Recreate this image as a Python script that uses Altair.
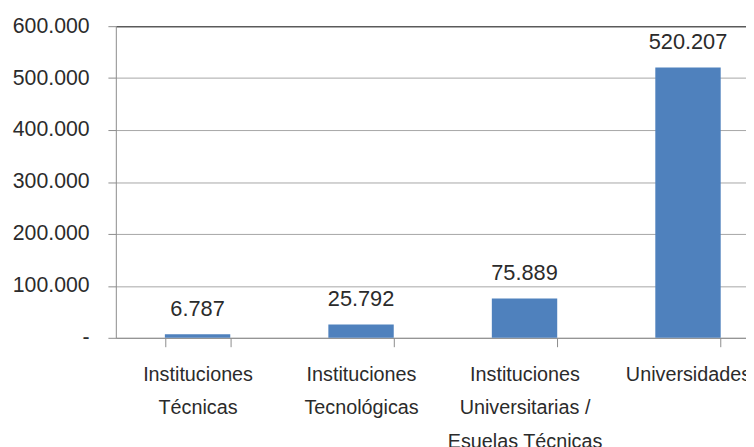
import altair as alt
import pandas as pd

# Data
categories = [
    "Instituciones|Técnicas",
    "Instituciones|Tecnológicas",
    "Instituciones|Universitarias /|Esuelas Técnicas",
    "Universidades",
]
values = [6787, 25792, 75889, 520207]
value_labels = ["6.787", "25.792", "75.889", "520.207"]
y_ticks = [0, 100000, 200000, 300000, 400000, 500000, 600000]

df = pd.DataFrame({"categoria": categories, "valor": values, "etiqueta": value_labels})

FONT = "Liberation Sans"
TXT = "#2b2b2b"
AXIS_GRAY = "#8C8C8C"

x_enc = alt.X(
    "categoria:N",
    sort=categories,
    title=None,
    scale=alt.Scale(range=[0, 661], paddingInner=0.6, paddingOuter=0.3),
    axis=alt.Axis(
        labelExpr="split(datum.label, '|')",
        labelAngle=0,
        tickBand="extent",
        tickSize=9,
        labelPadding=18,
        labelFontSize=20,
        labelLineHeight=34,
        labelOverlap=False,
        labelBaseline="top",
    ),
)

y_enc = alt.Y(
    "valor:Q",
    title=None,
    scale=alt.Scale(domain=[0, 600000]),
    axis=alt.Axis(
        values=y_ticks,
        labelExpr="datum.value == 0 ? '-\u00a0\u00a0' : format(datum.value / 1000, 'd') + '.000'",
        tickSize=8,
        labelPadding=19,
        labelFontSize=21.5,
        grid=True,
        gridColor={"condition": {"test": "datum.value === 600000", "value": "#5A5A5A"}, "value": "#A6A6A6"},
        gridWidth={"condition": {"test": "datum.value === 600000", "value": 1.6}, "value": 1},
    ),
)

bars = alt.Chart(df).mark_bar(color="#4F81BD").encode(x=x_enc, y=y_enc)

labels = alt.Chart(df).mark_text(
    dy=-18.5, baseline="alphabetic", font=FONT, fontSize=22, color=TXT
).encode(x=x_enc, y=y_enc, text="etiqueta:N")

chart = (
    alt.layer(bars, labels)
    .properties(
        width=637,
        height=315,
        padding={"left": 109, "top": 16, "right": 0, "bottom": 108},
        autosize=alt.AutoSizeParams(type="none"),
        background="white",
    )
    .configure_view(stroke=None)
    .configure_axis(
        labelFont=FONT,
        labelColor=TXT,
        domainColor=AXIS_GRAY,
        tickColor=AXIS_GRAY,
    )
)

chart.save("out.html", embed_options={"renderer": "svg", "actions": False})
